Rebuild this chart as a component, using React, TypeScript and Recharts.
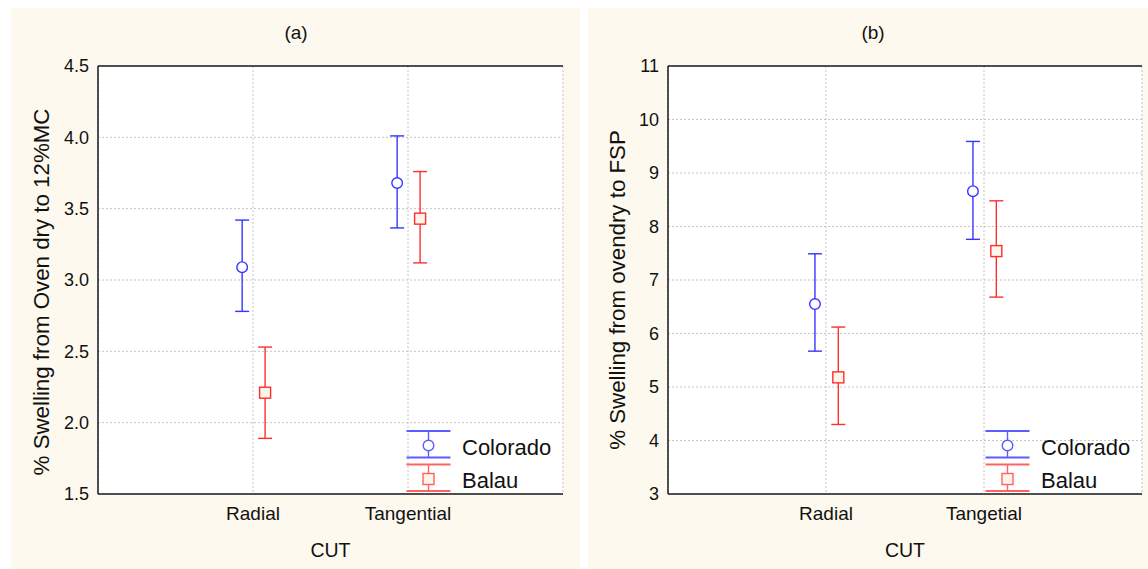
import React from 'react';
import {
  ScatterChart,
  Scatter,
  XAxis,
  YAxis,
  CartesianGrid,
  ErrorBar,
  Legend,
  Label,
} from 'recharts';

// categories
const cutsA = ['Radial', 'Tangential'];
const cutsB = ['Radial', 'Tangetial'];
const groups = ['Colorado', 'Balau'];

// (a) % swelling from oven dry to 12%MC (mean, lower / upper limit)
const ovenColoradoMean = [3.09, 3.68];
const ovenColoradoLow = [2.78, 3.365];
const ovenColoradoHigh = [3.42, 4.01];
const ovenBalauMean = [2.21, 3.43];
const ovenBalauLow = [1.89, 3.12];
const ovenBalauHigh = [2.53, 3.76];

// (b) % swelling from ovendry to FSP
const fspColoradoMean = [6.55, 8.66];
const fspColoradoLow = [5.67, 7.76];
const fspColoradoHigh = [7.49, 9.59];
const fspBalauMean = [5.18, 7.54];
const fspBalauLow = [4.3, 6.68];
const fspBalauHigh = [6.12, 8.48];

// y ticks
const ticksA = [1.5, 2.0, 2.5, 3.0, 3.5, 4.0, 4.5];
const ticksB = [3, 4, 5, 6, 7, 8, 9, 10, 11];

const BLUE = '#3535ff';
const RED = '#ff2e2e';
const LEG_BLUE = '#5c5cff';
const LEG_RED = '#ff6262';
const CREAM = '#fdf9ee';
const FONT = '"Liberation Sans", Arial, Helvetica, sans-serif';

// small horizontal dodge so the two groups don't sit on top of each other
const DODGE = { Colorado: -0.07, Balau: 0.078 };

function toRows(mean: number[], low: number[], high: number[], shift: number) {
  return mean.map((m, i) => ({
    x: i + 1 + shift,
    y: m,
    err: [m - low[i], high[i] - m],
  }));
}

const CircleDot = (p: any) => (
  <circle cx={p.cx} cy={p.cy} r={5.3} fill="#fff" stroke={BLUE} strokeWidth={1.4} />
);

const SquareDot = (p: any) => (
  <rect
    x={p.cx - 5.5}
    y={p.cy - 5.5}
    width={11}
    height={11}
    fill="#fdf4ec"
    stroke={RED}
    strokeWidth={1.4}
  />
);

function LegendBox() {
  return (
    <svg width={170} height={66} style={{ display: 'block', overflow: 'visible' }}>
      <g stroke={LEG_BLUE} strokeWidth={2}>
        <line x1={22.5} y1={2} x2={22.5} y2={28.5} strokeWidth={1.4} />
        <line x1={0.5} y1={2} x2={44.5} y2={2} />
        <line x1={0.5} y1={28.5} x2={44.5} y2={28.5} />
        <circle cx={22.5} cy={16.5} r={5.3} fill="#fff" strokeWidth={1.4} />
      </g>
      <g stroke={LEG_RED} strokeWidth={2}>
        <line x1={22.5} y1={35.5} x2={22.5} y2={62} strokeWidth={1.4} />
        <line x1={0.5} y1={35.5} x2={44.5} y2={35.5} />
        <line x1={0.5} y1={62} x2={44.5} y2={62} />
        <rect x={17} y={44.5} width={11} height={11} fill="#fdf4ec" strokeWidth={1.4} />
      </g>
      <text x={56} y={18} dominantBaseline="central" fontSize={22} fill="#111">
        {groups[0]}
      </text>
      <text x={56} y={51.5} dominantBaseline="central" fontSize={22} fill="#111">
        {groups[1]}
      </text>
    </svg>
  );
}

interface PanelProps {
  left: number;
  width: number;
  title: string;
  cuts: string[];
  yLabel: string;
  ticks: number[];
  fmt: (v: number) => string;
  colorado: any[];
  balau: any[];
  marginLeft: number;
  marginRight: number;
  labelX: number;
  labelY: number;
}

const frameLine = { stroke: '#1a1a1a', strokeWidth: 1.5 };

function Panel(props: PanelProps) {
  const { left, width, title, cuts, yLabel, ticks, fmt, colorado, balau } = props;
  const height = 561;
  const yMin = ticks[0];
  const yMax = ticks[ticks.length - 1];
  const plotRight = width - props.marginRight;

  return (
    <div
      style={{
        position: 'absolute',
        left,
        top: 8,
        width,
        height,
        background: CREAM,
      }}
    >
      <div
        style={{
          position: 'absolute',
          left: 235,
          width: 100,
          top: 15,
          textAlign: 'center',
          fontSize: 19,
          lineHeight: '19px',
          color: '#111',
        }}
      >
        {title}
      </div>
      <ScatterChart
        width={width}
        height={height}
        margin={{ top: 56, right: props.marginRight, bottom: 35, left: props.marginLeft }}
        style={{ position: 'absolute', left: 0, top: 0 }}
      >
        <CartesianGrid fill="#fff" stroke="#c4c4c4" strokeDasharray="2 2" />
        <XAxis
          type="number"
          dataKey="x"
          domain={[0, 3]}
          ticks={[1, 2]}
          tickFormatter={(v: number) => cuts[v - 1] ?? ''}
          allowDataOverflow
          height={40}
          axisLine={frameLine}
          tickLine={false}
          tickSize={7}
          tickMargin={6}
          tick={{ fill: '#111', fontSize: 19 }}
        >
          <Label
            content={({ viewBox }: any) => (
              <text
                x={viewBox.x + viewBox.width / 2}
                y={549}
                textAnchor="middle"
                fontSize={19.5}
                fill="#111"
              >
                CUT
              </text>
            )}
          />
        </XAxis>
        <XAxis
          xAxisId="top"
          orientation="top"
          type="number"
          domain={[0, 3]}
          height={2}
          tick={false}
          tickLine={false}
          axisLine={frameLine}
        />
        <YAxis
          type="number"
          dataKey="y"
          domain={[yMin, yMax]}
          ticks={ticks}
          tickFormatter={fmt}
          allowDataOverflow
          width={60}
          axisLine={frameLine}
          tickLine={false}
          tickSize={6}
          tickMargin={3}
          tick={{ fill: '#111', fontSize: 18 }}
        >
          <Label
            content={() => (
              <text
                x={props.labelX}
                y={props.labelY}
                transform={`rotate(-90 ${props.labelX} ${props.labelY})`}
                textAnchor="middle"
                dominantBaseline="central"
                fontSize={22.3}
                fill="#111"
              >
                {yLabel}
              </text>
            )}
          />
        </YAxis>
        <YAxis
          yAxisId="right"
          orientation="right"
          type="number"
          domain={[yMin, yMax]}
          width={0}
          tick={false}
          tickLine={false}
          axisLine={{ stroke: '#777', strokeWidth: 2.2 }}
        />
        <Scatter
          name={groups[0]}
          data={colorado}
          fill={BLUE}
          shape={CircleDot}
          isAnimationActive={false}
        >
          <ErrorBar dataKey="err" direction="y" width={7} stroke={BLUE} strokeWidth={1.4} />
        </Scatter>
        <Scatter
          name={groups[1]}
          data={balau}
          fill={RED}
          shape={SquareDot}
          isAnimationActive={false}
        >
          <ErrorBar dataKey="err" direction="y" width={7} stroke={RED} strokeWidth={1.4} />
        </Scatter>
        <Legend
          layout="vertical"
          align="center"
          verticalAlign="middle"
          wrapperStyle={{ left: plotRight - 157, top: 421, width: 170, height: 66 }}
          content={() => <LegendBox />}
        />
      </ScatterChart>
    </div>
  );
}

export default function App() {
  return (
    <div
      style={{
        position: 'absolute',
        left: 0,
        top: 0,
        width: 1148,
        height: 569,
        background: '#fff',
        fontFamily: FONT,
        overflow: 'hidden',
      }}
    >
      <Panel
        left={11}
        width={569}
        title="(a)"
        cuts={cutsA}
        yLabel="% Swelling from Oven dry to 12%MC"
        ticks={ticksA}
        fmt={(v) => v.toFixed(1)}
        colorado={toRows(ovenColoradoMean, ovenColoradoLow, ovenColoradoHigh, DODGE.Colorado)}
        balau={toRows(ovenBalauMean, ovenBalauLow, ovenBalauHigh, DODGE.Balau)}
        marginLeft={27}
        marginRight={17}
        labelX={30}
        labelY={284}
      />
      <Panel
        left={588}
        width={560}
        title="(b)"
        cuts={cutsB}
        yLabel="% Swelling from ovendry to FSP"
        ticks={ticksB}
        fmt={(v) => String(v)}
        colorado={toRows(fspColoradoMean, fspColoradoLow, fspColoradoHigh, DODGE.Colorado)}
        balau={toRows(fspBalauMean, fspBalauLow, fspBalauHigh, DODGE.Balau)}
        marginLeft={20}
        marginRight={6}
        labelX={29}
        labelY={282}
      />
    </div>
  );
}
